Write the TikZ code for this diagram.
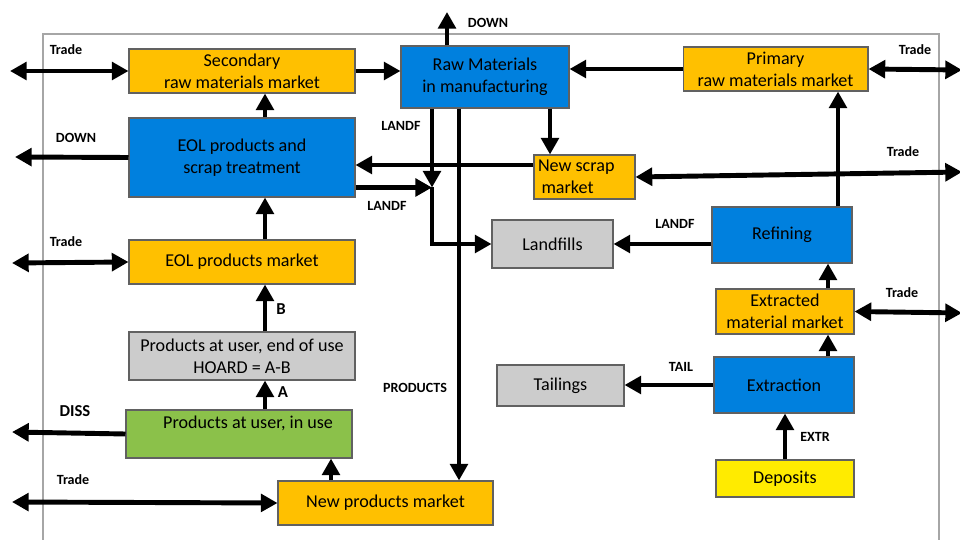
\documentclass[tikz,border=0pt]{standalone}
\usepackage{fontspec}
\setmainfont{Carlito}
\usetikzlibrary{arrows.meta,positioning}
\definecolor{mktc}{RGB}{255,192,0}
\definecolor{procc}{RGB}{0,128,222}
\definecolor{sinkc}{RGB}{204,204,204}
\definecolor{usec}{RGB}{139,193,74}
\definecolor{depc}{RGB}{255,235,0}

\begin{document}
\begin{tikzpicture}[x=0.02cm,y=-0.02cm,
    box/.style={draw=black!62,line width=0.6pt,inner sep=0pt,align=center,font=\fontsize{10.3}{12.5}\selectfont},
    mkt/.style={box,fill=mktc},
    proc/.style={box,fill=procc},
    sink/.style={box,fill=sinkc},
    flow/.style={line width=2.8pt,-{Triangle[length=9.5pt,width=10pt]}},
    twoway/.style={line width=2.8pt,{Triangle[length=9.5pt,width=10pt]}-{Triangle[length=9.5pt,width=10pt]}},
    lbl/.style={font=\bfseries\fontsize{8}{9}\selectfont,inner sep=0pt},
    biglbl/.style={font=\bfseries\fontsize{9.5}{11}\selectfont,inner sep=0pt}
  ]
  \useasboundingbox (0,0) rectangle (960,540);
  \draw[black!35,line width=0.6pt] (43,542) -- (43,34) -- (939,34) -- (939,542);

  \node[mkt,minimum width=4.52cm,minimum height=0.88cm] (sec) at (242,71) {Secondary\\raw materials market};
  \node[proc,minimum width=3.36cm,minimum height=1.24cm] (rawman) at (485,77) {Raw Materials\\in manufacturing};
  \node[mkt,minimum width=3.7cm,minimum height=0.88cm] (prim) at (775.5,69) {Primary\\raw materials market};
  \node[proc,minimum width=4.52cm,minimum height=1.58cm] (eoltreat) at (242,157.5) {EOL products and\\scrap treatment};
  \node[mkt,minimum width=2.02cm,minimum height=0.88cm,text width=1.86cm,align=flush left] (newscrap) at (584.5,177) {New scrap\\\hspace*{2pt}market};
  \node[sink,minimum width=2.42cm,minimum height=0.96cm] (landf) at (552.5,244) {Landfills};
  \node[proc,minimum width=2.8cm,minimum height=1.12cm] (refin) at (782,235) {Refining};
  \node[mkt,minimum width=4.52cm,minimum height=0.88cm] (eolmkt) at (242,262) {EOL products market};
  \node[mkt,minimum width=2.76cm,minimum height=0.9cm] (extmkt) at (785,311.5) {Extracted\\material market};
  \node[sink,minimum width=4.52cm,minimum height=0.96cm] (enduse) at (242,356) {Products at user, end of use\\HOARD = A-B};
  \node[sink,minimum width=2.54cm,minimum height=0.82cm] (tail) at (560.5,385.5) {Tailings};
  \node[proc,minimum width=2.8cm,minimum height=1.12cm] (extr) at (784,385) {Extraction};
  \node[box,fill=usec,minimum width=4.52cm,minimum height=0.96cm,text width=3.76cm,align=flush right,text height=7pt,text depth=13.4pt] (inuse) at (239,434) {Products at user, in use};
  \node[mkt,minimum width=4.3cm,minimum height=0.88cm] (newprod) at (385.5,503) {New products market};
  \node[box,fill=depc,minimum width=2.76cm,minimum height=0.74cm] (depo) at (785,478.5) {Deposits};

  \coordinate (colL) at (265,0);
  \coordinate (colS) at (550,0);
  \coordinate (colP) at (459,0);
  \coordinate (colR) at (838,0);
  \coordinate (colE) at (828,0);
  \coordinate (colN) at (331,0);
  \coordinate (scrapY) at (0,165);
  \coordinate (jn) at (432,187.5);
  \coordinate (dnTop) at (447,12);
  \coordinate (dnLeft) at (15,157);
  \coordinate (dissEnd) at (12,432);
  \coordinate (trSec) at (10,71);
  \coordinate (trEol) at (12,263);
  \coordinate (trNew) at (12,502);
  \coordinate (trPrim) at (962,70);
  \coordinate (trScrap) at (962,172);
  \coordinate (trExt) at (962,313);

  \draw[twoway] (trSec) -- (sec.west);
  \draw[flow] (sec.east) -- (rawman.west |- sec.east);
  \draw[flow] (rawman.north -| dnTop) -- (dnTop);
  \draw[flow] (prim.west) -- (rawman.east |- prim.west);
  \draw[twoway] (prim.east) -- (trPrim);
  \draw[flow] (eoltreat.north -| colL) -- (sec.south -| colL);
  \draw[flow] (eoltreat.west) -- (dnLeft);
  \draw[flow] (newscrap.west |- scrapY) -- (eoltreat.east |- scrapY);
  \draw[flow] (rawman.south -| colS) -- (newscrap.north -| colS);
  \draw[twoway] (newscrap.east) -- (trScrap);
  \draw[flow] (rawman.south -| jn) -- (jn);
  \draw[flow] (eoltreat.east |- jn) -- (jn);
  \draw[flow] (jn) |- (landf.west);
  \draw[flow] (rawman.south -| colP) -- (newprod.north -| colP);
  \draw[flow] (refin.west |- landf.east) -- (landf.east);
  \draw[flow] (refin.north -| colR) -- (prim.south -| colR);
  \draw[flow] (extmkt.north -| colE) -- (refin.south -| colE);
  \draw[twoway] (extmkt.east) -- (trExt);
  \draw[flow] (extr.north -| colE) -- (extmkt.south -| colE);
  \draw[flow] (extr.west) -- (tail.east |- extr.west);
  \draw[flow] (depo.north) -- (extr.south -| depo.north);
  \draw[flow] (eolmkt.north -| colL) -- (eoltreat.south -| colL);
  \draw[twoway] (trEol) -- (eolmkt.west);
  \draw[flow] (enduse.north -| colL) -- (eolmkt.south -| colL);
  \draw[flow] (inuse.north -| colL) -- (enduse.south -| colL);
  \draw[flow] (inuse.west) -- (dissEnd);
  \draw[flow] (newprod.north -| colN) -- (inuse.south -| colN);
  \draw[twoway] (trNew) -- (newprod.west);

  \foreach \x/\y/\t [count=\i] in {66/50/Trade,488/23/DOWN,915/50/Trade,76/138/DOWN,
      401/126/LANDF,387/206/LANDF,903/152/Trade,66/242/Trade,675/224/LANDF,902/293/Trade,
      681/367/TAIL,815/437/EXTR,415/388/PRODUCTS,73/480/Trade}
    \node[lbl] (t\i) at (\x,\y) {\t};
  \foreach \x/\y/\t [count=\i] in {281/309/B,283/392/A,75/411/DISS}
    \node[biglbl] (b\i) at (\x,\y) {\t};
\end{tikzpicture}
\end{document}
